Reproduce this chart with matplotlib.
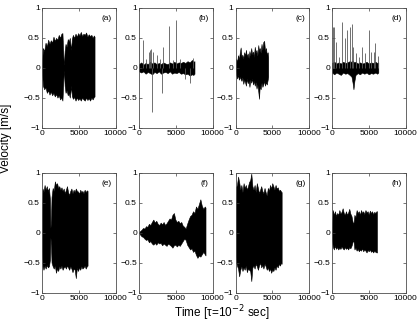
import matplotlib
matplotlib.use("Agg")
import matplotlib.pyplot as plt

plt.rcParams['font.family'] = ['Liberation Sans', 'DejaVu Sans']

# ---- envelope data (time in tau units, velocity in m/s) ----
# (a)
a_t = [0, 120, 300, 480, 660, 840, 1020, 1200, 1380, 1560, 1740, 1920, 2100, 2280, 2460, 2640, 2780, 2860,
       2940, 3000, 3080, 3200, 3350, 3500, 3650, 3780, 3880, 3960, 4060, 4200, 4380, 4560, 4740, 4920, 5100,
       5280, 5460, 5640, 5820, 6000, 6180, 6360, 6540, 6720, 6900, 7050, 7150]
a_up = [0.05, 0.33, 0.28, 0.42, 0.36, 0.47, 0.40, 0.46, 0.42, 0.52, 0.45, 0.50, 0.47, 0.55, 0.50, 0.57, 0.58, 0.35,
        0.10, 0.05, 0.28, 0.40, 0.35, 0.48, 0.44, 0.50, 0.38, 0.30, 0.48, 0.55, 0.50, 0.57, 0.52, 0.58, 0.54,
        0.60, 0.53, 0.57, 0.55, 0.59, 0.52, 0.56, 0.53, 0.55, 0.50, 0.54, 0.52]
a_lo = [-0.05, -0.30, -0.36, -0.33, -0.42, -0.38, -0.45, -0.40, -0.46, -0.42, -0.48, -0.44, -0.50, -0.46, -0.53, -0.50, -0.55, -0.35,
        -0.10, -0.05, -0.30, -0.42, -0.38, -0.46, -0.43, -0.50, -0.40, -0.30, -0.47, -0.52, -0.49, -0.55, -0.50, -0.54, -0.51,
        -0.55, -0.50, -0.53, -0.55, -0.50, -0.54, -0.51, -0.55, -0.50, -0.53, -0.49, -0.48]

# (b) baseline band + spikes
b_t = [0, 300, 600, 900, 1200, 1500, 1800, 2100, 2400, 2700, 3000, 3300, 3600, 3900, 4200, 4500, 4800, 5100,
       5400, 5700, 6000, 6300, 6600, 6900, 7200, 7400, 7550]
b_up = [0.06, 0.09, 0.05, 0.08, 0.06, 0.10, 0.07, 0.09, 0.06, 0.08, 0.06, 0.09, 0.07, 0.06, 0.09, 0.07, 0.10, 0.07,
        0.09, 0.08, 0.10, 0.08, 0.11, 0.09, 0.13, 0.10, 0.11]
b_lo = [-0.06, -0.08, -0.06, -0.10, -0.07, -0.09, -0.11, -0.07, -0.09, -0.06, -0.10, -0.08, -0.07, -0.09, -0.06, -0.10, -0.08, -0.09,
        -0.07, -0.10, -0.09, -0.11, -0.10, -0.13, -0.11, -0.12, -0.10]
b_spike_t = [580, 1400, 1530, 1670, 1710, 1940, 2470, 3180, 3200, 4090, 5090, 6890, 900, 2800, 4600, 5600, 6300, 7300]
b_spike_v = [0.46, 0.27, 0.30, 0.31, -0.74, 0.27, 0.21, -0.43, 0.34, 0.70, 0.80, -0.26, 0.15, 0.14, 0.13, 0.14, -0.18, 0.16]

# (c)
c_t = [0, 100, 220, 340, 460, 580, 700, 820, 940, 1060, 1180, 1300, 1420, 1540, 1660, 1780, 1900, 2020, 2140, 2260,
       2380, 2500, 2620, 2740, 2860, 2980, 3100, 3200, 3300, 3420, 3540, 3660, 3780, 3900, 4020, 4140, 4260, 4380, 4450]
c_up = [0.05, 0.15, 0.10, 0.21, 0.14, 0.25, 0.34, 0.18, 0.22, 0.15, 0.26, 0.20, 0.30, 0.18, 0.24, 0.16, 0.28, 0.20, 0.33, 0.22,
        0.27, 0.18, 0.35, 0.25, 0.30, 0.20, 0.38, 0.28, 0.33, 0.25, 0.40, 0.30, 0.43, 0.45, 0.28, 0.33, 0.22, 0.26, 0.18]
c_lo = [-0.05, -0.12, -0.18, -0.12, -0.20, -0.15, -0.19, -0.22, -0.16, -0.27, -0.20, -0.24, -0.30, -0.18, -0.26, -0.22, -0.32, -0.20, -0.25, -0.18,
        -0.28, -0.22, -0.30, -0.24, -0.35, -0.28, -0.40, -0.52, -0.30, -0.36, -0.25, -0.32, -0.28, -0.22, -0.30, -0.24, -0.28, -0.20, -0.15]

# (d) baseline band + spikes
d_t = [0, 300, 600, 900, 1200, 1500, 1800, 2100, 2400, 2650, 2800, 2920, 3050, 3200, 3500, 3800, 4100, 4400,
       4700, 5000, 5300, 5600, 5900, 6150, 6300]
d_up = [0.08, 0.10, 0.07, 0.09, 0.07, 0.10, 0.08, 0.09, 0.11, 0.10, 0.12, 0.10, 0.09, 0.10, 0.07, 0.09, 0.07, 0.08,
        0.10, 0.07, 0.09, 0.08, 0.10, 0.08, 0.09]
d_lo = [-0.08, -0.11, -0.08, -0.10, -0.12, -0.08, -0.10, -0.09, -0.12, -0.15, -0.25, -0.36, -0.22, -0.12, -0.09, -0.11, -0.08, -0.10,
        -0.08, -0.11, -0.09, -0.10, -0.08, -0.10, -0.08]
d_spike_t = [150, 274, 548, 1005, 1415, 1780, 2010, 2470, 2700, 2920, 3290, 3740, 4060, 4520, 4980, 5300, 5660, 5890, 6210]
d_spike_v = [0.68, 0.69, 0.43, 0.18, 0.77, 0.49, 0.63, 0.69, 0.74, 0.35, 0.24, 0.18, 0.35, 0.24, 0.63, 0.27, 0.27, 0.41, 0.20]

# (e)
e_t = [0, 80, 200, 350, 500, 650, 800, 950, 1080, 1150, 1220, 1300, 1450, 1600, 1750, 1900, 2050, 2200, 2350, 2500,
       2650, 2800, 2950, 3100, 3250, 3400, 3550, 3700, 3850, 4000, 4150, 4300, 4450, 4600, 4750, 4900, 5050, 5200,
       5350, 5500, 5650, 5800, 5950, 6100, 6200]
e_up = [0.30, 0.74, 0.68, 0.80, 0.72, 0.78, 0.70, 0.75, 0.55, 0.08, 0.20, 0.60, 0.75, 0.70, 0.86, 0.80, 0.83, 0.75, 0.78, 0.72,
        0.76, 0.70, 0.74, 0.66, 0.72, 0.78, 0.68, 0.63, 0.70, 0.74, 0.66, 0.72, 0.68, 0.74, 0.70, 0.69, 0.65, 0.72,
        0.68, 0.70, 0.66, 0.72, 0.68, 0.71, 0.70]
e_lo = [-0.30, -0.56, -0.62, -0.55, -0.60, -0.54, -0.58, -0.56, -0.45, -0.08, -0.20, -0.50, -0.56, -0.60, -0.55, -0.67, -0.60, -0.64, -0.56, -0.60,
        -0.55, -0.62, -0.58, -0.56, -0.60, -0.55, -0.58, -0.62, -0.56, -0.60, -0.66, -0.60, -0.62, -0.76, -0.58, -0.64, -0.58, -0.62,
        -0.56, -0.60, -0.58, -0.55, -0.60, -0.56, -0.55]

# (f)
f_t = [0, 150, 350, 550, 750, 950, 1150, 1350, 1550, 1750, 1950, 2150, 2350, 2550, 2750, 2950, 3150, 3350, 3550, 3750,
       3950, 4150, 4350, 4550, 4750, 4950, 5150, 5350, 5550, 5750, 5950, 6150, 6350, 6550, 6750, 6950, 7150, 7350,
       7550, 7750, 7950, 8150, 8350, 8550, 8750, 8950, 9050]
f_up = [0.0, 0.03, 0.05, 0.08, 0.07, 0.11, 0.10, 0.15, 0.13, 0.18, 0.22, 0.17, 0.20, 0.15, 0.13, 0.17, 0.14, 0.18, 0.13, 0.16,
        0.20, 0.24, 0.22, 0.30, 0.33, 0.22, 0.18, 0.20, 0.16, 0.18, 0.12, 0.10, 0.07, 0.15, 0.22, 0.28, 0.30, 0.36,
        0.33, 0.44, 0.40, 0.48, 0.56, 0.45, 0.40, 0.44, 0.42]
f_lo = [0.0, -0.03, -0.06, -0.07, -0.10, -0.12, -0.11, -0.16, -0.14, -0.18, -0.20, -0.17, -0.20, -0.16, -0.18, -0.17, -0.21, -0.18, -0.20, -0.22,
        -0.18, -0.20, -0.22, -0.25, -0.21, -0.20, -0.23, -0.20, -0.22, -0.18, -0.14, -0.10, -0.12, -0.20, -0.24, -0.28, -0.26, -0.32,
        -0.30, -0.37, -0.42, -0.38, -0.40, -0.36, -0.32, -0.36, -0.38]

# (g)
g_t = [0, 100, 200, 350, 500, 650, 800, 950, 1100, 1250, 1400, 1550, 1700, 1850, 2000, 2150, 2300, 2450, 2600, 2750,
       2900, 3050, 3200, 3350, 3500, 3650, 3800, 3950, 4100, 4250, 4400, 4550, 4700, 4850, 5000, 5150, 5300, 5450,
       5600, 5750, 5900, 6050, 6200, 6280]
g_up = [0.40, 0.77, 0.80, 0.94, 0.85, 0.72, 0.80, 0.68, 0.83, 0.75, 0.80, 0.72, 0.78, 0.85, 0.88, 0.99, 0.78, 0.72, 0.80, 0.68,
        0.83, 0.75, 0.66, 0.72, 0.78, 0.70, 0.66, 0.75, 0.68, 0.62, 0.75, 0.70, 0.80, 0.74, 0.83, 0.78, 0.72, 0.80,
        0.74, 0.76, 0.70, 0.72, 0.69, 0.68]
g_lo = [-0.40, -0.50, -0.55, -0.60, -0.73, -0.62, -0.56, -0.64, -0.58, -0.62, -0.55, -0.66, -0.60, -0.62, -0.64, -0.81, -0.58, -0.55, -0.60, -0.52,
        -0.56, -0.62, -0.55, -0.50, -0.58, -0.54, -0.60, -0.52, -0.56, -0.62, -0.58, -0.64, -0.60, -0.67, -0.62, -0.64, -0.58, -0.62,
        -0.55, -0.58, -0.52, -0.55, -0.50, -0.52]

# (h)
h_t = [0, 100, 250, 400, 550, 700, 850, 1000, 1150, 1300, 1450, 1600, 1750, 1900, 2050, 2200, 2350, 2500, 2650, 2750,
       2850, 2950, 3050, 3200, 3350, 3500, 3650, 3800, 3950, 4100, 4250, 4400, 4550, 4700, 4850, 5000, 5150, 5300,
       5450, 5600, 5750, 5900, 6050, 6120]
h_up = [0.10, 0.38, 0.30, 0.36, 0.28, 0.33, 0.30, 0.38, 0.32, 0.35, 0.41, 0.33, 0.30, 0.36, 0.30, 0.34, 0.40, 0.32, 0.28, 0.22,
        0.15, 0.18, 0.30, 0.26, 0.38, 0.33, 0.36, 0.30, 0.38, 0.33, 0.36, 0.31, 0.38, 0.34, 0.36, 0.30, 0.37, 0.33,
        0.36, 0.31, 0.35, 0.33, 0.36, 0.36]
h_lo = [-0.10, -0.23, -0.28, -0.22, -0.27, -0.24, -0.28, -0.25, -0.27, -0.23, -0.26, -0.28, -0.24, -0.27, -0.25, -0.28, -0.24, -0.26, -0.22, -0.18,
        -0.12, -0.16, -0.28, -0.25, -0.30, -0.27, -0.31, -0.28, -0.30, -0.26, -0.31, -0.28, -0.30, -0.33, -0.29, -0.31, -0.28, -0.32,
        -0.30, -0.33, -0.30, -0.32, -0.33, -0.33]

panel_labels = ['(a)', '(b)', '(c)', '(d)', '(e)', '(f)', '(g)', '(h)']
envelopes = [(a_t, a_up, a_lo), (b_t, b_up, b_lo), (c_t, c_up, c_lo), (d_t, d_up, d_lo),
             (e_t, e_up, e_lo), (f_t, f_up, f_lo), (g_t, g_up, g_lo), (h_t, h_up, h_lo)]
spikes = {1: (b_spike_t, b_spike_v), 3: (d_spike_t, d_spike_v)}

W, H = 419, 327
fig = plt.figure(figsize=(W / 100, H / 100), dpi=100)

lefts = [42, 139, 235.5, 332]
tops = [8, 173]
ax_w, ax_h = 73.5, 119.5

for i, (t, up, lo) in enumerate(envelopes):
    row, col = divmod(i, 4)
    ax = fig.add_axes([lefts[col] / W, 1 - (tops[row] + ax_h) / H, ax_w / W, ax_h / H])
    if i in spikes:
        st, sv = spikes[i]
        ax.vlines(st, 0, sv, color='0.35', lw=0.6)
    ax.fill_between(t, lo, up, color='black', lw=0.4, edgecolor='black')
    ax.set_xlim(0, 10000)
    ax.set_ylim(-1, 1)
    ax.set_xticks([0, 5000, 10000])
    ax.set_yticks([-1, -0.5, 0, 0.5, 1])
    ax.set_yticklabels(['\u22121', '\u22120.5', '0', '0.5', '1'])
    ax.tick_params(direction='in', length=2, width=0.5, labelsize=6, pad=1.5,
                   top=True, right=True, colors='0.25', labelcolor='black')
    for s in ax.spines.values():
        s.set_linewidth(0.6)
        s.set_color('0.3')
    ax.text(0.95, 0.91, panel_labels[i], transform=ax.transAxes, ha='right', va='center', fontsize=6)

fig.text(6 / W, 1 - 138 / H, 'Velocity [m/s]', rotation=90, ha='center', va='center', fontsize=8.5)
fig.text(222 / W, 1 - 313 / H, r'Time [$\mathregular{\tau}$=10$^{-2}$ sec]', ha='center', va='center', fontsize=8.5)

fig.savefig('out.png', dpi=100)
